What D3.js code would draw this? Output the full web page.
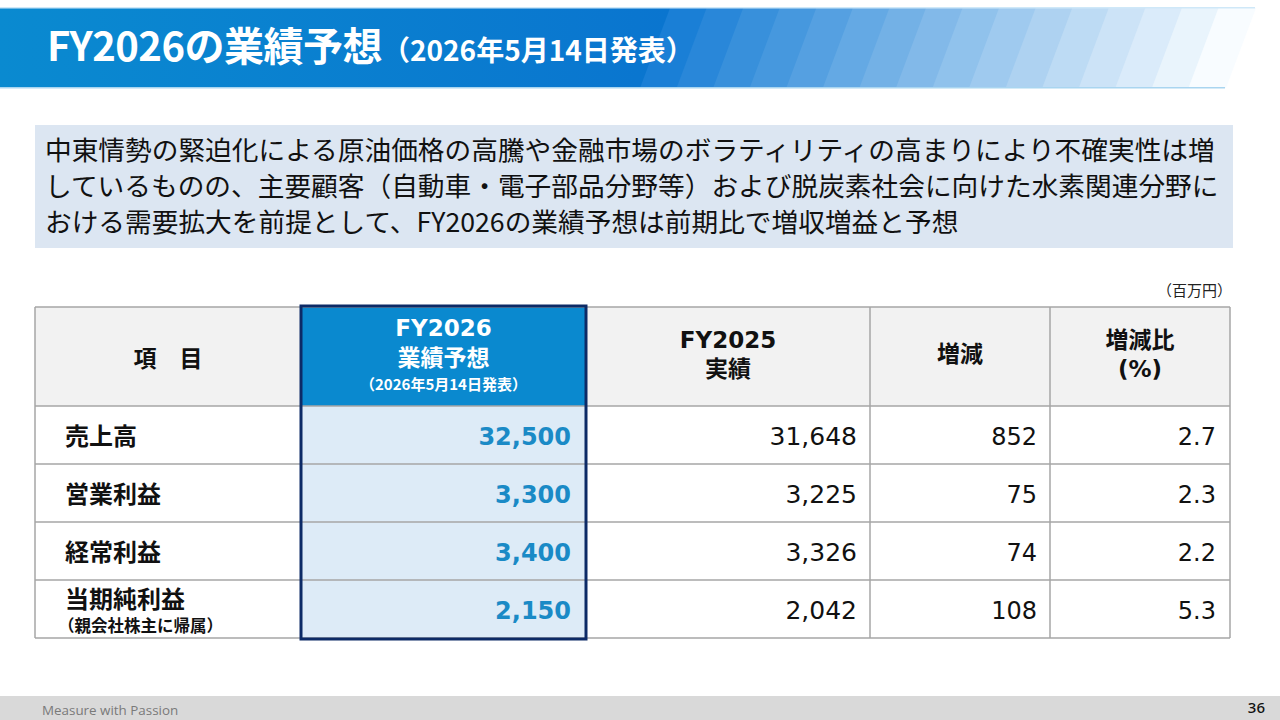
<!DOCTYPE html>
<html>
<head>
<meta charset="utf-8">
<script src="https://cdn.jsdelivr.net/npm/d3@7"></script>
<style>
  body { margin: 0; background: #fff; }
  svg { display: block; font-family: "Noto Sans CJK JP", "Noto Sans", sans-serif; }
</style>
</head>
<body>
<div id="content"></div>
<script>
const W = 1280
const H = 720

// data
const items = ['売上高', '営業利益', '経常利益', '当期純利益']
const itemNotes = ['', '', '', '（親会社株主に帰属）']
const forecast = [32500, 3300, 3400, 2150]
const actual = [31648, 3225, 3326, 2042]
const change = [852, 75, 74, 108]
const changePct = [2.7, 2.3, 2.2, 5.3]

const headers = [
  ['項　目'],
  ['FY2026', '業績予想', '（2026年5月14日発表）'],
  ['FY2025', '実績'],
  ['増減'],
  ['増減比', '(%)']
]
const bodyLines = [
  '中東情勢の緊迫化による原油価格の高騰や金融市場のボラティリティの高まりにより不確実性は増',
  'しているものの、主要顧客（自動車・電子部品分野等）および脱炭素社会に向けた水素関連分野に',
  'おける需要拡大を前提として、FY2026の業績予想は前期比で増収増益と予想'
]

const latinFont = '"DejaVu Sans", Verdana, sans-serif'
const isLatin = s => /^[\x20-\x7e]+$/.test(s)

const svg = d3.select('#content').append('svg')
  .attr('width', W)
  .attr('height', H)

// ---- title banner
const bandTop = 8, bandBot = 88, slant = 30
const defs = svg.append('defs')
const grad = defs.append('linearGradient').attr('id', 'bannerGrad')
grad.append('stop').attr('offset', '0%').attr('stop-color', '#0a8ad0')
grad.append('stop').attr('offset', '100%').attr('stop-color', '#0a74cf')

svg.append('rect')
  .attr('x', 0).attr('y', bandTop)
  .attr('width', 700).attr('height', bandBot - bandTop)
  .attr('fill', 'url(#bannerGrad)')

// slanted fading stripes
const stripeCount = 16
const stripeX = d3.scaleLinear().domain([0, stripeCount]).range([640, 1225])
const stripeColor = d3.scaleLinear()
  .domain([0, stripeCount - 1])
  .range(['#1a7fd6', '#f8fcff'])
  .interpolate(d3.interpolateRgb)
svg.append('g').selectAll('path')
  .data(d3.range(stripeCount))
  .join('path')
  .attr('d', i => {
    const x0 = stripeX(i), x1 = stripeX(i + 1) + 1
    return `M${x0},${bandBot}L${x0 + slant},${bandTop}L${x1 + slant},${bandTop}L${x1},${bandBot}Z`
  })
  .attr('fill', i => stripeColor(i))
svg.append('rect')
  .attr('x', 0).attr('y', bandTop - 1)
  .attr('width', 1255).attr('height', 1.5)
  .attr('fill', '#cfe8f8')
svg.append('rect')
  .attr('x', 0).attr('y', bandBot - 1)
  .attr('width', 1225).attr('height', 1.5)
  .attr('fill', '#a9d5f0')

const title = svg.append('text')
  .attr('x', 47).attr('y', 61)
  .attr('fill', '#fff')
  .attr('font-weight', 700)
title.append('tspan').attr('font-size', 40).attr('letter-spacing', -0.5).text('FY2026の業績予想')
title.append('tspan').attr('font-size', 28).attr('dx', 0).text('（2026年5月14日発表）')

// ---- summary box
svg.append('rect')
  .attr('x', 35).attr('y', 125)
  .attr('width', 1198).attr('height', 123)
  .attr('fill', '#dce6f2')
svg.append('g').selectAll('text')
  .data(bodyLines)
  .join('text')
  .attr('x', 45)
  .attr('y', (d, i) => 160 + i * 36)
  .attr('font-size', 26.7)
  .attr('fill', '#111')
  .text(d => d)

// ---- unit
svg.append('text')
  .attr('x', 1232).attr('y', 296)
  .attr('text-anchor', 'end')
  .attr('font-size', 15)
  .attr('fill', '#222')
  .text('（百万円）')

// ---- table
const colEdges = [35, 301, 586, 870, 1050, 1230]
const headTop = 307, headBot = 406, tableBot = 638
const y = d3.scaleBand().domain(items).range([headBot, tableBot])
const grid = '#a6a6a6'

// fills
svg.append('rect')
  .attr('x', colEdges[0]).attr('y', headTop)
  .attr('width', colEdges[5] - colEdges[0]).attr('height', headBot - headTop)
  .attr('fill', '#f2f2f2')
svg.append('rect')
  .attr('x', colEdges[1]).attr('y', headTop)
  .attr('width', colEdges[2] - colEdges[1]).attr('height', headBot - headTop)
  .attr('fill', '#0a89cf')
svg.append('rect')
  .attr('x', colEdges[1]).attr('y', headBot)
  .attr('width', colEdges[2] - colEdges[1]).attr('height', tableBot - headBot)
  .attr('fill', '#ddebf7')

// grid lines
const gridG = svg.append('g').attr('stroke', grid).attr('stroke-width', 1.5)
gridG.selectAll('.h')
  .data([headTop, headBot, ...items.slice(1).map(d => y(d)), tableBot])
  .join('line')
  .attr('x1', colEdges[0]).attr('x2', colEdges[5])
  .attr('y1', d => d).attr('y2', d => d)
gridG.selectAll('.v')
  .data(colEdges)
  .join('line')
  .attr('x1', d => d).attr('x2', d => d)
  .attr('y1', headTop).attr('y2', tableBot)

// header text
const headCenters = colEdges.slice(0, -1).map((d, i) => (d + colEdges[i + 1]) / 2)
const headLayouts = [
  [{ y: 367, s: 23 }],
  [{ y: 336, s: 23 }, { y: 366, s: 23 }, { y: 390, s: 15 }],
  [{ y: 348, s: 23 }, { y: 377, s: 23 }],
  [{ y: 362, s: 23 }],
  [{ y: 348, s: 23 }, { y: 377, s: 23 }]
]
headers.forEach((lines, c) => {
  svg.append('g').selectAll('text')
    .data(lines)
    .join('text')
    .attr('x', headCenters[c])
    .attr('y', (d, i) => headLayouts[c][i].y)
    .attr('text-anchor', 'middle')
    .attr('font-family', d => isLatin(d) ? latinFont : null)
    .attr('font-size', (d, i) => headLayouts[c][i].s)
    .attr('font-weight', 700)
    .attr('fill', c === 1 ? '#fff' : '#111')
    .text(d => d)
})

// row labels
const rows = svg.append('g').selectAll('g')
  .data(items)
  .join('g')
  .attr('transform', d => `translate(0,${y(d)})`)
rows.append('text')
  .attr('x', 65)
  .attr('y', (d, i) => itemNotes[i] ? 28 : 39)
  .attr('font-size', 24)
  .attr('font-weight', 700)
  .attr('fill', '#111')
  .text(d => d)
rows.append('text')
  .attr('x', 58)
  .attr('y', 52)
  .attr('font-size', 16.5)
  .attr('font-weight', 700)
  .attr('fill', '#111')
  .text((d, i) => itemNotes[i])

const fmt = d3.format(',')
const fmtPct = d3.format('.1f')
const numCols = [
  { vals: forecast, f: fmt, x: colEdges[2] - 15, s: 24, w: 700, c: '#1a8ac6' },
  { vals: actual, f: fmt, x: colEdges[3] - 13, s: 25, w: 400, c: '#111' },
  { vals: change, f: fmt, x: colEdges[4] - 13, s: 24, w: 400, c: '#111' },
  { vals: changePct, f: fmtPct, x: colEdges[5] - 14, s: 24, w: 400, c: '#111' }
]
numCols.forEach(col => {
  rows.append('text')
    .attr('x', col.x)
    .attr('y', 39)
    .attr('text-anchor', 'end')
    .attr('font-family', latinFont)
    .attr('font-size', col.s)
    .attr('font-weight', col.w)
    .attr('fill', col.c)
    .text((d, i) => col.f(col.vals[i]))
})

// highlight frame around forecast column
svg.append('rect')
  .attr('x', colEdges[1]).attr('y', headTop - 1)
  .attr('width', colEdges[2] - colEdges[1]).attr('height', tableBot - headTop + 2)
  .attr('fill', 'none')
  .attr('stroke', '#0c2a66')
  .attr('stroke-width', 3)

// ---- footer
svg.append('rect')
  .attr('x', 0).attr('y', 696)
  .attr('width', W).attr('height', 24)
  .attr('fill', '#d9d9d9')
svg.append('text')
  .attr('x', 42).attr('y', 715)
  .attr('font-family', '"Open Sans", "Noto Sans", sans-serif')
  .attr('font-size', 13.4)
  .attr('fill', '#7a7a7a')
  .text('Measure with Passion')
svg.append('text')
  .attr('x', 1265).attr('y', 713)
  .attr('text-anchor', 'end')
  .attr('font-family', '"Noto Sans", sans-serif')
  .attr('font-size', 15)
  .attr('font-weight', 500)
  .attr('fill', '#111')
  .text('36')
</script>
</body>
</html>
